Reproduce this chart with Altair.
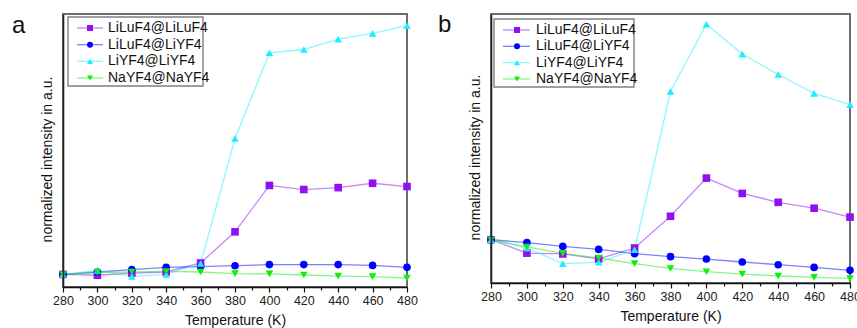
import altair as alt
import pandas as pd

# ---------------- data ----------------
temps = [280, 300, 320, 340, 360, 380, 400, 420, 440, 460, 480]
series_names = ["LiLuF4@LiLuF4", "LiLuF4@LiYF4", "LiYF4@LiYF4", "NaYF4@NaYF4"]
series_colors = ["#9010F0", "#0000FF", "#1EEEFF", "#10EE10"]
series_shapes = ["square", "circle", "triangle-up", "triangle-down"]

# panel a (normalized intensity, arbitrary units)
a_liluf4_liluf4 = [4.6, 4.3, 5.1, 5.5, 8.8, 20.2, 37.2, 35.7, 36.4, 38.0, 36.8]
a_liluf4_liyf4 = [4.6, 5.5, 6.4, 7.2, 7.5, 7.8, 8.2, 8.2, 8.2, 7.9, 7.2]
a_liyf4_liyf4 = [4.6, 6.1, 3.9, 4.6, 8.6, 54.4, 85.8, 87.0, 90.8, 92.9, 95.7]
a_nayf4_nayf4 = [4.6, 5.3, 5.5, 5.7, 5.5, 4.9, 4.8, 4.4, 4.0, 3.8, 3.3]

# panel b
b_liluf4_liluf4 = [16.1, 11.1, 10.8, 9.0, 13.0, 24.8, 39.0, 33.3, 30.0, 27.8, 24.5]
b_liluf4_liyf4 = [16.1, 15.0, 13.6, 12.5, 10.9, 9.8, 8.9, 7.8, 6.8, 5.8, 4.7]
b_liyf4_liyf4 = [16.1, 13.0, 7.2, 7.7, 12.4, 71.2, 96.2, 85.1, 77.5, 70.5, 66.3]
b_nayf4_nayf4 = [16.1, 13.4, 11.0, 9.3, 7.2, 5.4, 4.2, 3.3, 2.6, 2.1, 1.7]

x_domain = [280, 480]
y_domain = [0, 100]
x_title = "Temperature (K)"
y_title = "normalized intensity in a.u."
panel_labels = ["a", "b"]

FONT = "Liberation Sans"


def to_long(lists):
    rows = []
    for name, vals in zip(series_names, lists):
        for t, v in zip(temps, vals):
            rows.append({"T": t, "v": v, "series": name})
    return pd.DataFrame(rows)


df_a = to_long([a_liluf4_liluf4, a_liluf4_liyf4, a_liyf4_liyf4, a_nayf4_nayf4])
df_b = to_long([b_liluf4_liluf4, b_liluf4_liyf4, b_liyf4_liyf4, b_nayf4_nayf4])

color_scale = alt.Scale(domain=series_names, range=series_colors)
shape_scale = alt.Scale(domain=series_names, range=series_shapes)


def build_panel(df, label, x0, x1, h, x_off, y_off, title_y, label_xy,
                box, leg_y, line_x, marker_x, text_x):
    xs = alt.Scale(domain=x_domain, range=[x0, x1], nice=False, zero=False)
    ys = alt.Scale(domain=y_domain, range=[h, 0], nice=False, zero=False)
    xaxis = alt.Axis(
        orient="bottom", offset=x_off, values=list(range(280, 481, 10)),
        labelExpr="datum.value % 20 === 0 ? datum.label : ''",
        tickSize={"condition": {"test": "datum.value % 20 === 0", "value": 5}, "value": 3},
        tickColor="#111", tickWidth=1.2, domainColor="#111", domainWidth=1.6,
        grid=False, labelFlush=False, labelOverlap=False,
        labelFont=FONT, labelFontSize=12.5, labelColor="#222", labelPadding=2,
        title=x_title, titleFont=FONT, titleFontSize=14, titleFontWeight="normal",
        titleColor="#111", titlePadding=7, zindex=1,
    )
    yaxis = alt.Axis(
        orient="left", offset=y_off, ticks=False, labels=False, grid=False,
        domainColor="#222", domainWidth=1.6,
        title=y_title, titleFont=FONT, titleFontSize=14, titleFontWeight="normal",
        titleColor="#111", titleX=-9, titleY=title_y, zindex=1,
    )
    base = alt.Chart(df)
    lines = base.mark_line(strokeWidth=1.3, opacity=0.5).encode(
        x=alt.X("T:Q", scale=xs, axis=xaxis),
        y=alt.Y("v:Q", scale=ys, axis=yaxis),
        color=alt.Color("series:N", scale=color_scale, legend=None),
        order="T:Q",
    )
    points = base.mark_point(filled=True, opacity=1, size=58).encode(
        x=alt.X("T:Q", scale=xs, axis=xaxis),
        y=alt.Y("v:Q", scale=ys, axis=yaxis),
        color=alt.Color("series:N", scale=color_scale, legend=None),
        shape=alt.Shape("series:N", scale=shape_scale, legend=None),
    )
    frame_df = pd.DataFrame({"x0": [x_domain[0]], "x1": [x_domain[1]],
                             "y0": [y_domain[0]], "y1": [y_domain[1]]})
    frame = alt.Chart(frame_df).mark_rect(
        fill="transparent", stroke="#6e6e6e", strokeWidth=2
    ).encode(
        x=alt.X("x0:Q", scale=xs, axis=xaxis), x2="x1:Q",
        y=alt.Y("y0:Q", scale=ys, axis=yaxis), y2="y1:Q",
    )
    lab = alt.Chart(pd.DataFrame({"t": [label]})).mark_text(
        font=FONT, fontSize=24, align="left", baseline="alphabetic", color="#111"
    ).encode(text="t:N", x=alt.value(label_xy[0]), y=alt.value(label_xy[1]))

    data_layer = alt.layer(frame, lines, points, lab)

    # legend drawn from the series list
    leg_df = pd.DataFrame({"series": series_names})
    ly = alt.Y("series:N", axis=None,
               scale=alt.Scale(type="point", domain=series_names, range=leg_y, padding=0))
    bx = alt.Chart(pd.DataFrame({"k": [0]})).mark_rect(
        fill="white", stroke="#808080", strokeWidth=1.4
    ).encode(x=alt.value(box[0]), x2=alt.value(box[1]),
             y=alt.value(box[2]), y2=alt.value(box[3]))
    lrules = alt.Chart(leg_df).mark_rule(strokeWidth=1.3, opacity=0.5).encode(
        x=alt.value(line_x[0]), x2=alt.value(line_x[1]), y=ly,
        color=alt.Color("series:N", scale=color_scale, legend=None),
    )
    lpts = alt.Chart(leg_df).mark_point(filled=True, opacity=1, size=36).encode(
        x=alt.value(marker_x), y=ly,
        color=alt.Color("series:N", scale=color_scale, legend=None),
        shape=alt.Shape("series:N", scale=shape_scale, legend=None),
    )
    ltxt = alt.Chart(leg_df).mark_text(
        font=FONT, fontSize=14, align="left", baseline="middle", color="#111"
    ).encode(x=alt.value(text_x), y=ly, text="series:N")
    legend_layer = alt.layer(bx, lrules, lpts, ltxt)

    return alt.layer(data_layer, legend_layer).resolve_scale(y="independent")


panel_a = build_panel(
    df_a, panel_labels[0], 0, 344, 273, 0, 0, 145, (-51, 19),
    (5, 140, 3, 72), [14, 64], (14, 40), 27, 45,
)
panel_b = build_panel(
    df_b, panel_labels[1], 428, 787, 269, -4, -428, 143, (375, 18),
    (431, 571, 5, 73), [16, 65], (440, 467), 454, 473,
)

chart = alt.layer(panel_a, panel_b).resolve_scale(
    x="independent", y="independent"
).properties(
    width=787, height=273,
    autosize=alt.AutoSizeParams(type="none"),
    padding={"left": 63, "top": 14, "right": 7, "bottom": 41},
    background="white",
).configure_view(strokeWidth=0)

chart.save("out.html", embed_options={"renderer": "svg", "actions": False})
